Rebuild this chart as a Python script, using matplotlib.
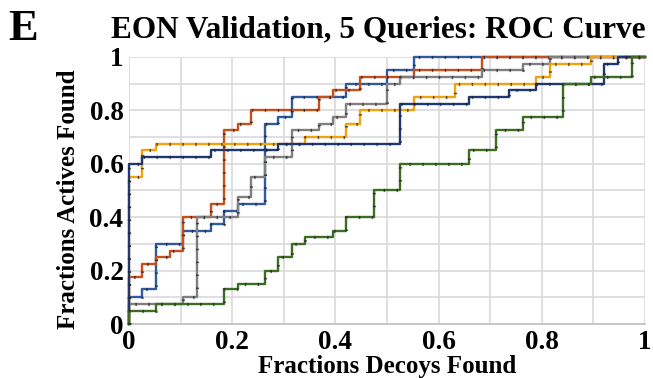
import matplotlib
matplotlib.use("Agg")
import matplotlib.pyplot as plt
import numpy as np

plt.rcParams['font.family'] = ['Liberation Serif', 'DejaVu Serif']
plt.rcParams['font.weight'] = 'bold'

# step corners (fraction decoys found, fraction actives found)
blue_x = [0, 0, 0.026, 0.053, 0.105, 0.158, 0.184, 0.211, 0.263, 0.289, 0.316, 0.421, 0.5, 0.553, 1.0]
blue_y = [0, 0.10, 0.13, 0.30, 0.35, 0.375, 0.425, 0.45, 0.75, 0.775, 0.85, 0.90, 0.95, 1.0, 1.0]

red_x = [0, 0, 0.026, 0.053, 0.079, 0.105, 0.158, 0.184, 0.211, 0.237, 0.368, 0.395, 0.447, 0.553, 0.684, 1.0]
red_y = [0, 0.175, 0.225, 0.25, 0.275, 0.40, 0.45, 0.725, 0.75, 0.80, 0.85, 0.875, 0.925, 0.95, 1.0, 1.0]

gray_x = [0, 0, 0.105, 0.132, 0.211, 0.237, 0.263, 0.316, 0.368, 0.395, 0.421, 0.5, 0.526, 0.684, 0.763, 0.816, 1.0]
gray_y = [0, 0.075, 0.10, 0.40, 0.475, 0.55, 0.625, 0.725, 0.75, 0.775, 0.825, 0.90, 0.925, 0.95, 0.975, 1.0, 1.0]

orange_x = [0, 0, 0.026, 0.053, 0.342, 0.421, 0.447, 0.553, 0.632, 0.789, 0.816, 0.895, 1.0]
orange_y = [0, 0.55, 0.65, 0.675, 0.70, 0.75, 0.80, 0.85, 0.90, 0.925, 0.975, 1.0, 1.0]

navy_x = [0, 0, 0.026, 0.158, 0.289, 0.526, 0.658, 0.737, 0.789, 0.921, 0.947, 1.0]
navy_y = [0, 0.60, 0.625, 0.65, 0.675, 0.825, 0.85, 0.875, 0.90, 0.975, 1.0, 1.0]

green_x = [0, 0, 0.053, 0.184, 0.211, 0.263, 0.289, 0.316, 0.342, 0.395, 0.421, 0.474, 0.526, 0.658, 0.711, 0.763, 0.842, 0.895, 0.974, 1.0]
green_y = [0, 0.05, 0.075, 0.13, 0.15, 0.20, 0.25, 0.30, 0.325, 0.35, 0.40, 0.50, 0.60, 0.65, 0.725, 0.775, 0.90, 0.925, 1.0, 1.0]

series = [
    (blue_x, blue_y, '#2F5A9E'),
    (red_x, red_y, '#C5501C'),
    (gray_x, gray_y, '#7F7F7F'),
    (orange_x, orange_y, '#F2A20C'),
    (navy_x, navy_y, '#1F3870'),
    (green_x, green_y, '#3B6E22'),
]

fig = plt.figure(figsize=(6.53, 3.78), dpi=100)
ax = fig.add_axes([129/653, 1 - 324/378, 516/653, 267/378])

for xs, ys, col in series:
    ax.step(xs, ys, where='post', color=col, lw=1.7, clip_on=False, zorder=3)
    # small dark data-point ticks along each curve
    ax.step(xs, ys, where='post', color='#1c1c28', lw=2.3, alpha=0.7,
            linestyle=(0, (0.45, 3.6)), dash_capstyle='butt', clip_on=False, zorder=3)

ax.set_xlim(0, 1)
ax.set_ylim(0, 1)
ax.set_xticks(np.arange(0, 1.01, 0.1), minor=True)
ax.set_yticks(np.arange(0, 1.01, 0.1), minor=True)
ax.set_xticks([0, 0.2, 0.4, 0.6, 0.8, 1])
ax.set_yticks([0, 0.2, 0.4, 0.6, 0.8, 1])
ax.set_xticklabels(['0', '0.2', '0.4', '0.6', '0.8', '1'])
ax.set_yticklabels(['0', '0.2', '0.4', '0.6', '0.8', '1'])
ax.grid(True, which='both', color='#D9D9D9', lw=1.2)
ax.set_axisbelow(True)
ax.tick_params(which='both', length=0, labelsize=19.5, pad=4)
for s in ['top', 'right', 'left']:
    ax.spines[s].set_visible(False)
ax.spines['bottom'].set_color('#BFBFBF')
ax.spines['bottom'].set_linewidth(1.2)

ax.set_xlabel('Fractions Decoys Found', fontsize=18, fontweight='bold', labelpad=0)
ax.set_ylabel('Fractions Actives Found', fontsize=18, fontweight='bold')
ax.yaxis.set_label_coords(-0.095, 0.468)

fig.text(378/653, 1 - 30/378, 'EON Validation, 5 Queries: ROC Curve', fontsize=22.5,
         fontweight='bold', ha='center', va='center')
fig.text(8/653, 1 - 29/378, 'E', fontsize=32, fontweight='bold', ha='left', va='center')

fig.savefig('out.png', dpi=100)
